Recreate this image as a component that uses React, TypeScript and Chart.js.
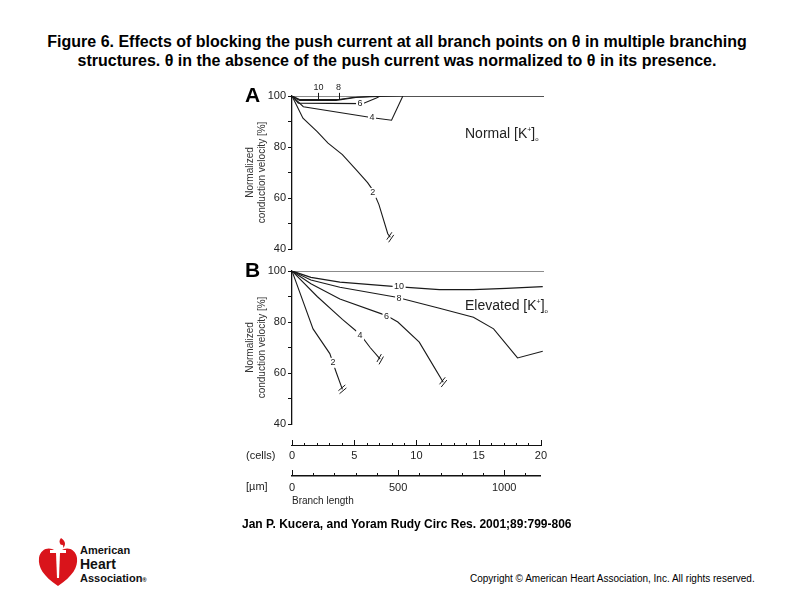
import React, { useEffect, useRef } from 'react';
import { Chart, registerables } from 'chart.js';
Chart.register(...registerables);

const FONT = "'Liberation Sans', Arial, Helvetica, sans-serif";
const LINE = '#1a1a1a';

// ---------- Data (x in cells, y in % normalized conduction velocity) ----------
const refX = [0, 20];
const refY = [100, 100];

// Panel A: normal [K+]o
const a2X = [0, 0.87, 2.0, 2.86, 4.0, 5.1, 6.0, 6.4, 6.9, 7.6, 7.8];
const a2Y = [100, 91.3, 86.0, 81.5, 77.0, 71.0, 66.0, 63.2, 57.4, 46.0, 44.6];
const a4X = [0, 0.9, 6.4, 7.9, 8.8, 20];
const a4Y = [100, 95.8, 91.5, 90.5, 100, 100];
const a6X = [0, 0.5, 5.6, 6.7, 7.0];
const a6Y = [100, 97.2, 97.0, 99.2, 100];
const a8X = [0, 0.6, 3.7, 4.8, 6.8, 8.8];
const a8Y = [100, 98.6, 98.6, 99.4, 99.8, 100];
const a10X = [0, 0.6, 3.5, 5.2, 6.8];
const a10Y = [100, 98.3, 98.3, 99.5, 100];

const labelTextA = ['2', '4', '6', '8', '10'];
const labelXA = [6.4, 6.35, 5.4, 3.7, 2.1];
const labelYA = [62, 91.5, 97.1, 102.8, 102.8];
const leaderYA = [NaN, NaN, NaN, 98.6, 98.3];

// Panel B: elevated [K+]o
const b2X = [0, 1.67, 3.0, 3.5, 4.0];
const b2Y = [100, 77.3, 67.6, 60.4, 53.6];
const b4X = [0, 2.0, 4.0, 5.4, 6.2, 7.0];
const b4Y = [100, 90.0, 81.0, 75.2, 70.0, 65.4];
const b6X = [0, 1.5, 3.8, 7.5, 8.4, 10.1, 11.2, 12.0];
const b6Y = [100, 95.0, 89.0, 82.5, 80.0, 72.1, 63.0, 56.4];
const b8X = [0, 1.5, 3.8, 8.3, 11.7, 14.4, 16.0, 17.9, 19.9];
const b8Y = [100, 96.5, 93.6, 89.7, 85.4, 81.9, 77.3, 65.9, 68.5];
const b10X = [0, 1.5, 3.8, 8.0, 11.7, 14.4, 17.0, 19.9];
const b10Y = [100, 97.5, 95.6, 94.0, 92.7, 92.7, 93.2, 93.9];

const labelTextB = ['2', '4', '6', '8', '10'];
const labelXB = [3.25, 5.4, 7.5, 8.5, 8.5];
const labelYB = [64, 74.8, 82.3, 89.4, 94];
const leaderYB = [NaN, NaN, NaN, NaN, NaN];

// Axis ticks
const yTickLabels = [40, 60, 80, 100];
const cellsMax = 20;
const cellsLabelEvery = 5;
const umMax = 1173;
const umLabelEvery = 500;

const pts = (xs: number[], ys: number[]) => xs.map((x, i) => ({ x, y: ys[i] }));

const ds = (xs: number[], ys: number[], brk = false, width = 1.1) => ({
  data: pts(xs, ys),
  borderColor: LINE,
  borderWidth: width,
  pointRadius: 0,
  showLine: true,
  fill: false,
  tension: 0,
  brk,
});

function labelsPlugin(texts: string[], xs: number[], ys: number[], leaders: number[]) {
  return {
    id: 'curveLabels',
    afterDatasetsDraw(chart: any) {
      const { ctx, scales } = chart;
      const sx = scales.x, sy = scales.y;
      ctx.save();
      // break marks
      chart.data.datasets.forEach((d: any) => {
        if (!d.brk) return;
        const n = d.data.length;
        const p1 = { x: sx.getPixelForValue(d.data[n - 1].x), y: sy.getPixelForValue(d.data[n - 1].y) };
        const p0 = { x: sx.getPixelForValue(d.data[n - 2].x), y: sy.getPixelForValue(d.data[n - 2].y) };
        let dx = p1.x - p0.x, dy = p1.y - p0.y;
        const L = Math.hypot(dx, dy) || 1;
        dx /= L; dy /= L;
        const ang = Math.atan2(dy, dx) - Math.PI / 2 - 0.35;
        const px = Math.cos(ang), py = Math.sin(ang);
        ctx.strokeStyle = LINE;
        ctx.lineWidth = 1;
        [-1.6, 1.6].forEach((o) => {
          const cx = p1.x + dx * o, cy = p1.y + dy * o;
          ctx.beginPath();
          ctx.moveTo(cx - px * 4.5, cy - py * 4.5);
          ctx.lineTo(cx + px * 4.5, cy + py * 4.5);
          ctx.stroke();
        });
      });
      ctx.font = `9px ${FONT}`;
      ctx.textAlign = 'center';
      ctx.textBaseline = 'middle';
      texts.forEach((t, i) => {
        const x = sx.getPixelForValue(xs[i]);
        const y = sy.getPixelForValue(ys[i]);
        if (!isNaN(leaders[i])) {
          const y0 = sy.getPixelForValue(leaders[i]);
          ctx.strokeStyle = LINE;
          ctx.lineWidth = 1;
          ctx.beginPath();
          ctx.moveTo(Math.round(x) + 0.5, y0);
          ctx.lineTo(Math.round(x) + 0.5, y + 4);
          ctx.stroke();
          ctx.fillStyle = '#222';
          ctx.fillText(t, x, y - 1);
        } else {
          const w = ctx.measureText(t).width + 3;
          ctx.fillStyle = '#fff';
          ctx.fillRect(x - w / 2, y - 5, w, 10);
          ctx.fillStyle = '#222';
          ctx.fillText(t, x, y);
        }
      });
      ctx.restore();
    },
  };
}

function panelConfig(datasets: any[], plugin: any) {
  return {
    type: 'scatter' as const,
    data: { datasets },
    options: {
      responsive: false,
      animation: false as const,
      layout: { padding: { top: 16, bottom: 11, right: 6, left: 0 } },
      plugins: { legend: { display: false }, tooltip: { enabled: false } },
      scales: {
        x: { type: 'linear' as const, min: 0, max: cellsMax, display: false },
        y: {
          type: 'linear' as const,
          min: 40,
          max: 100,
          afterFit: (s: any) => { s.width = 52; },
          afterBuildTicks: (s: any) => {
            const t: any[] = [];
            for (let v = 40; v <= 100; v += 10) t.push({ value: v });
            s.ticks = t;
          },
          ticks: {
            callback: (v: any) => (yTickLabels.includes(Number(v)) ? String(v) : ''),
            font: { family: FONT, size: 11 },
            color: '#222',
            padding: 2,
          },
          grid: {
            drawOnChartArea: false,
            drawTicks: true,
            tickLength: 4,
            color: '#111',
          },
          border: { display: true, color: '#111', width: 1.3 },
          title: {
            display: true,
            text: ['Normalized', 'conduction velocity [%]'],
            font: { family: FONT, size: 10 },
            color: '#333',
            padding: { top: 4, bottom: 0 },
          },
        },
      },
    },
    plugins: [plugin],
  };
}

function ChartCanvas({ config, left, top, width, height }: any) {
  const ref = useRef<HTMLCanvasElement>(null);
  useEffect(() => {
    if (!ref.current) return;
    const c = new Chart(ref.current, config);
    return () => c.destroy();
  }, []);
  return (
    <canvas
      ref={ref}
      width={width}
      height={height}
      style={{ position: 'absolute', left, top, width, height }}
    />
  );
}

const upTicksPlugin = {
  id: 'upTicks',
  afterDraw(chart: any) {
    const { ctx } = chart;
    ctx.save();
    ctx.strokeStyle = '#111';
    ctx.lineWidth = 1;
    const specs = [
      { id: 'x', every: cellsLabelEvery },
      { id: 'x2', every: umLabelEvery },
    ];
    specs.forEach(({ id, every }) => {
      const s = chart.scales[id];
      s.ticks.forEach((t: any) => {
        const px = Math.round(s.getPixelForValue(t.value)) + 0.5;
        const major = t.value % every === 0;
        ctx.beginPath();
        ctx.moveTo(px, s.top);
        ctx.lineTo(px, s.top - (major ? 6 : 3));
        ctx.stroke();
      });
    });
    ctx.restore();
  },
};

const axisConfig = {
  type: 'scatter' as const,
  data: { datasets: [{ data: [] as any[] }] },
  options: {
    responsive: false,
    animation: false as const,
    layout: { padding: { top: 11, bottom: 0, left: 52, right: 6 } },
    plugins: { legend: { display: false }, tooltip: { enabled: false } },
    scales: {
      y: { display: false, min: 0, max: 1 },
      x: {
        type: 'linear' as const,
        position: 'bottom' as const,
        min: 0,
        max: cellsMax,
        afterFit: (s: any) => { s.height = 30; },
        ticks: {
          stepSize: 1,
          autoSkip: false,
          maxRotation: 0,
          padding: 3,
          callback: (v: any) => (Number(v) % cellsLabelEvery === 0 ? String(v) : ''),
          font: { family: FONT, size: 11 },
          color: '#222',
        },
        grid: { drawOnChartArea: false, drawTicks: false },
        border: { display: true, color: '#111', width: 1.1 },
      },
      x2: {
        type: 'linear' as const,
        position: 'bottom' as const,
        min: 0,
        max: umMax,
        afterFit: (s: any) => { s.height = 39; },
        afterBuildTicks: (s: any) => {
          const t: any[] = [];
          for (let v = 0; v <= 1100; v += 100) t.push({ value: v });
          s.ticks = t;
        },
        ticks: {
          autoSkip: false,
          maxRotation: 0,
          padding: 5,
          callback: (v: any) => (Number(v) % umLabelEvery === 0 ? String(v) : ''),
          font: { family: FONT, size: 11 },
          color: '#222',
        },
        grid: { drawOnChartArea: false, drawTicks: false },
        border: { display: true, color: '#111', width: 1.6 },
        title: {
          display: true,
          text: 'Branch length',
          align: 'start' as const,
          font: { family: FONT, size: 10 },
          color: '#222',
          padding: { top: 0, bottom: 8 },
        },
      },
    },
  },
  plugins: [upTicksPlugin],
};

const configA = panelConfig(
  [
    ds(refX, refY, false, 1.2),
    ds(a2X, a2Y, true),
    ds(a4X, a4Y),
    ds(a6X, a6Y),
    ds(a8X, a8Y),
    ds(a10X, a10Y),
  ],
  labelsPlugin(labelTextA, labelXA, labelYA, leaderYA)
);

const configB = panelConfig(
  [
    ds(refX, refY, false, 1.2),
    ds(b2X, b2Y, true),
    ds(b4X, b4Y, true),
    ds(b6X, b6Y, true),
    ds(b8X, b8Y),
    ds(b10X, b10Y, false, 1.3),
  ],
  labelsPlugin(labelTextB, labelXB, labelYB, leaderYB)
);

const abs = (left: number, top: number, extra: any = {}) => ({
  position: 'absolute' as const,
  left,
  top,
  whiteSpace: 'nowrap' as const,
  fontFamily: FONT,
  color: '#000',
  ...extra,
});

function Logo() {
  return (
    <svg width={42} height={52} style={{ position: 'absolute', left: 37, top: 536 }} viewBox="0 0 42 52">
      <path d="M21 50 C 6 40, 1 31, 2 22 C 3 14, 10 11, 15 13 C 18 14, 20 16, 21 19 C 22 16, 24 14, 27 13 C 32 11, 39 14, 40 22 C 41 31, 36 40, 21 50 Z" fill="#d9141b" />
      <path d="M24 2 C 30 6, 28 10, 26 12 C 27 9, 25 8, 24 9 C 22 7, 22 4, 24 2 Z" fill="#d9141b" />
      <rect x={13} y={14} width={16} height={3} fill="#fff" />
      <path d="M19 17 L23 17 L22 42 L20 42 Z" fill="#fff" />
    </svg>
  );
}

export default function App() {
  return (
    <div style={{ position: 'absolute', left: 0, top: 0, width: 794, height: 595, background: '#fff', overflow: 'hidden' }}>
      <div style={abs(0, 32, { width: 794, textAlign: 'center', fontWeight: 'bold', fontSize: 16, lineHeight: '19px' })}>
        Figure 6. Effects of blocking the push current at all branch points on θ in multiple branching
        <br />
        structures. θ in the absence of the push current was normalized to θ in its presence.
      </div>

      <ChartCanvas config={configA} left={240} top={80} width={310} height={180} />
      <ChartCanvas config={configB} left={240} top={255} width={310} height={180} />
      <ChartCanvas config={axisConfig} left={240} top={430} width={310} height={85} />

      <div style={abs(245, 83, { fontWeight: 'bold', fontSize: 21, lineHeight: '24px' })}>A</div>
      <div style={abs(245, 258, { fontWeight: 'bold', fontSize: 21, lineHeight: '24px' })}>B</div>

      <div style={abs(465, 121, { fontSize: 14, lineHeight: '18px', color: '#222' })}>
        Normal [K<sup style={{ fontSize: 7 }}>+</sup>]<sub style={{ fontSize: 6 }}>o</sub>
      </div>
      <div style={abs(465, 293, { fontSize: 14, lineHeight: '18px', color: '#222' })}>
        Elevated [K<sup style={{ fontSize: 7 }}>+</sup>]<sub style={{ fontSize: 6 }}>o</sub>
      </div>

      <div style={abs(246, 449, { fontSize: 11, lineHeight: '13px', color: '#222' })}>(cells)</div>
      <div style={abs(246, 480, { fontSize: 11, lineHeight: '13px', color: '#222' })}>[µm]</div>

      <div style={abs(242, 517, { fontWeight: 'bold', fontSize: 12, lineHeight: '14px' })}>
        Jan P. Kucera, and Yoram Rudy Circ Res. 2001;89:799-806
      </div>

      <Logo />
      <div style={abs(80, 544, { fontWeight: 'bold', fontSize: 11, lineHeight: '13px', color: '#111' })}>American</div>
      <div style={abs(80, 557, { fontWeight: 'bold', fontSize: 14, lineHeight: '15px', color: '#111' })}>Heart</div>
      <div style={abs(80, 572, { fontWeight: 'bold', fontSize: 11, lineHeight: '13px', color: '#111' })}>
        Association<span style={{ fontSize: 6 }}>®</span>
      </div>

      <div style={abs(470, 573, { fontSize: 10, lineHeight: '12px' })}>
        Copyright © American Heart Association, Inc. All rights reserved.
      </div>
    </div>
  );
}
